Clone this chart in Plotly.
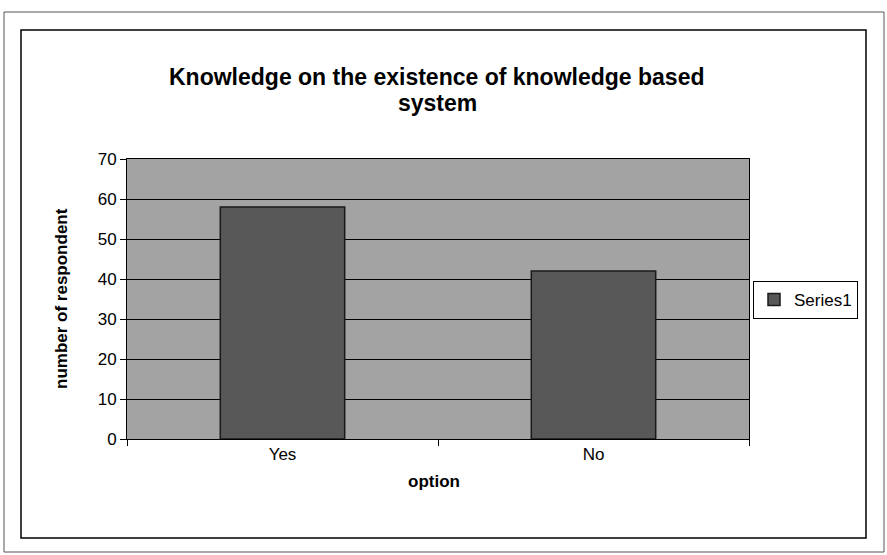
import plotly.graph_objects as go

categories = ["Yes", "No"]
values = [58, 42]
series_name = "Series1"
title_lines = ["Knowledge on the existence of knowledge based", "system"]

L, R, T, B = 127, 749, 159, 439
W, H = 887, 555
pw, ph = R - L, B - T

def px(x):
    return (x - L) / pw

def py(y):
    return (B - y) / ph

fig = go.Figure()
fig.add_trace(go.Bar(
    x=categories, y=values, name=series_name,
    marker=dict(color="#585858", line=dict(color="#1a1a1a", width=1.5)),
    showlegend=True,
))

annotations = [
    dict(text=f"<b>{title_lines[0]}</b>", x=px(437), y=py(77), xref="paper", yref="paper",
         xanchor="center", yanchor="middle", showarrow=False, font=dict(size=23)),
    dict(text=f"<b>{title_lines[1]}</b>", x=px(437), y=py(103), xref="paper", yref="paper",
         xanchor="center", yanchor="middle", showarrow=False, font=dict(size=23)),
    dict(text="<b>number of respondent</b>", x=px(61), y=py(299), xref="paper", yref="paper",
         xanchor="center", yanchor="middle", showarrow=False, textangle=-90, font=dict(size=17)),
    dict(text="<b>option</b>", x=px(434), y=py(481), xref="paper", yref="paper",
         xanchor="center", yanchor="middle", showarrow=False, font=dict(size=17)),
]

fig.update_layout(
    width=W, height=H,
    margin=dict(l=L, r=W - R, t=T, b=H - B),
    paper_bgcolor="white",
    plot_bgcolor="#a3a3a3",
    bargap=0.6,
    font=dict(family="Arial, Liberation Sans, sans-serif", color="black", size=17),
    xaxis=dict(
        tickson="boundaries", ticks="outside", ticklen=6, tickcolor="black",
        showline=True, linecolor="black", linewidth=1, mirror=True,
        showgrid=False, tickfont=dict(size=17),
    ),
    yaxis=dict(
        range=[0, 70], dtick=10, ticks="outside", ticklen=6, tickcolor="black",
        showline=True, linecolor="black", linewidth=1, mirror=True,
        showgrid=True, gridcolor="black", gridwidth=1,
        tickfont=dict(size=17), zeroline=False,
    ),
    legend=dict(
        x=px(753), y=py(281), xanchor="left", yanchor="top",
        bordercolor="black", borderwidth=1, bgcolor="white",
        font=dict(size=17), tracegroupgap=0,
        itemwidth=30,
    ),
    annotations=annotations,
    shapes=[
        dict(type="rect", xref="paper", yref="paper",
             x0=px(21), x1=px(866), y0=py(538), y1=py(30),
             line=dict(color="black", width=1.5), layer="below"),
        dict(type="rect", xref="paper", yref="paper",
             x0=px(4), x1=px(884), y0=py(552), y1=py(12),
             line=dict(color="#555555", width=1), layer="below"),
    ],
)

fig.write_html("out.html", config={"displayModeBar": False},
               post_script="document.body.style.margin='0';document.body.style.overflow='hidden';")
